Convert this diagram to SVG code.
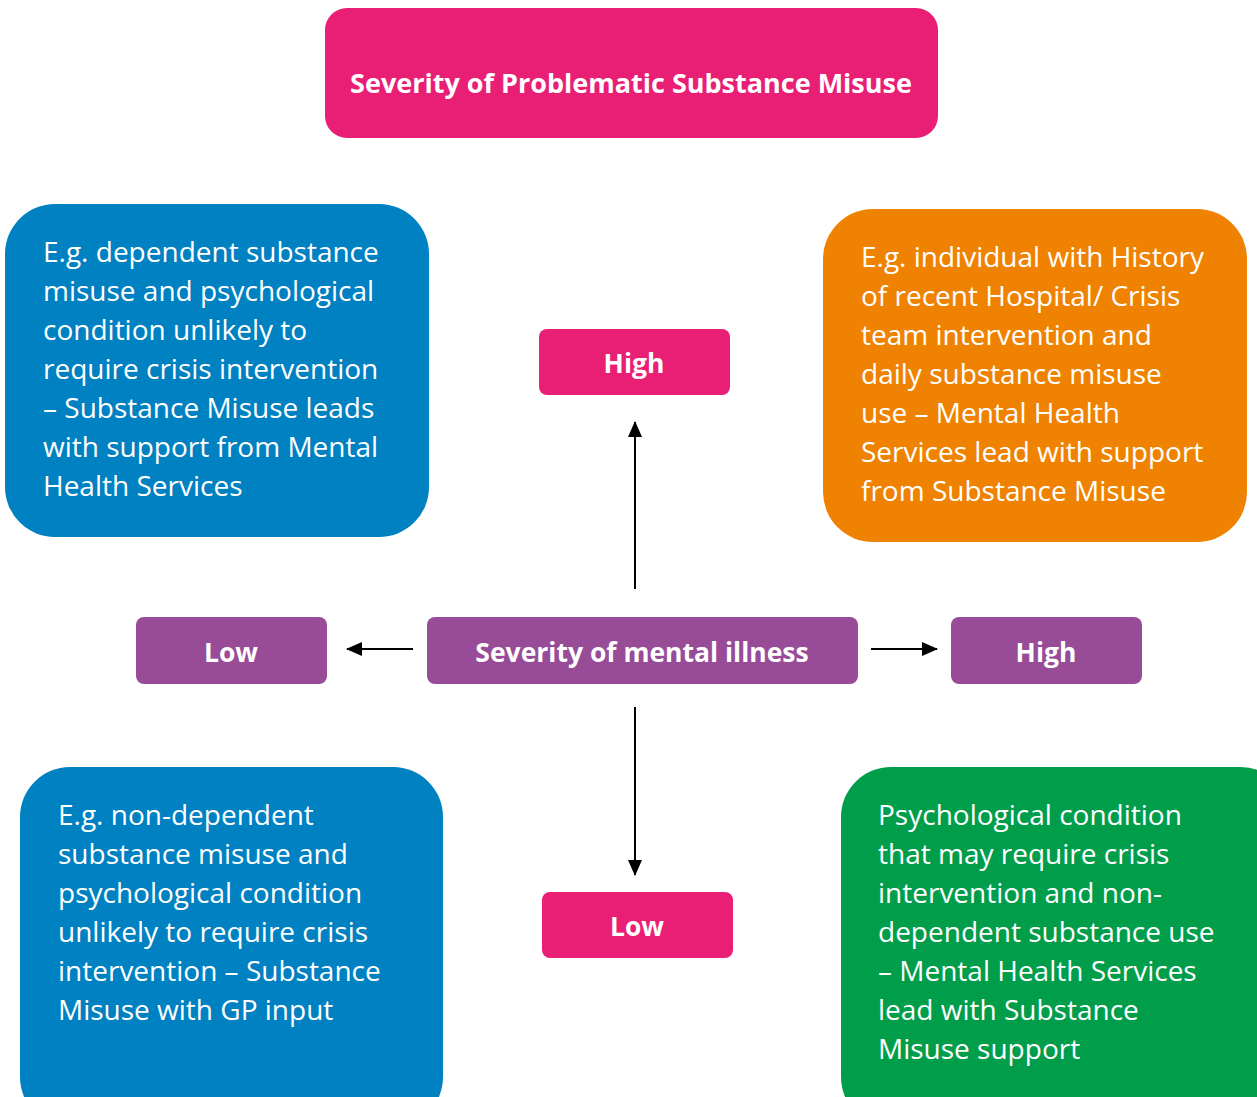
<svg xmlns="http://www.w3.org/2000/svg" width="1257" height="1097" viewBox="0 0 1257 1097">
<style>
.body{font-family:"Open Sans","Liberation Sans",sans-serif;font-size:28px;fill:#fff}
.lbl{font-family:"Open Sans","Liberation Sans",sans-serif;font-size:26.5px;font-weight:bold;fill:#fff;text-anchor:middle}
.pink{fill:#E91E75}
.purple{fill:#984C98}
.conn{stroke:#000;stroke-width:2;fill:none;marker-end:url(#ah)}
</style>
<defs>
<marker id="ah" markerWidth="16" markerHeight="14" refX="15" refY="7" orient="auto" markerUnits="userSpaceOnUse">
<path d="M0,0 L16,7 L0,14 Z" fill="#000"/>
</marker>
</defs>
<rect width="1257" height="1097" fill="#fff"/>
<g id="title">
<rect class="pink" x="325" y="8" width="613" height="130" rx="22"/>
<text class="lbl" x="631" y="93" style="font-size:27px">Severity of Problematic Substance Misuse</text>
</g>
<g id="top-left">
<rect x="5" y="204" width="424" height="333" rx="50" fill="#0081C2"/>
<text class="body" x="43" y="262">E.g. dependent substance</text>
<text class="body" x="43" y="301">misuse and psychological</text>
<text class="body" x="43" y="340">condition unlikely to</text>
<text class="body" x="43" y="379">require crisis intervention</text>
<text class="body" x="43" y="418">– Substance Misuse leads</text>
<text class="body" x="43" y="457">with support from Mental</text>
<text class="body" x="43" y="496">Health Services</text>
</g>
<g id="top-right">
<rect x="823" y="209" width="424" height="333" rx="50" fill="#EF8200"/>
<text class="body" x="861" y="267">E.g. individual with History</text>
<text class="body" x="861" y="306">of recent Hospital/ Crisis</text>
<text class="body" x="861" y="345">team intervention and</text>
<text class="body" x="861" y="384">daily substance misuse</text>
<text class="body" x="861" y="423">use – Mental Health</text>
<text class="body" x="861" y="462">Services lead with support</text>
<text class="body" x="861" y="501">from Substance Misuse</text>
</g>
<g id="high-top">
<rect class="pink" x="539" y="329" width="191" height="66" rx="8"/>
<text class="lbl" x="634" y="373">High</text>
</g>
<g id="low-left">
<rect class="purple" x="136" y="617" width="191" height="67" rx="8"/>
<text class="lbl" x="231" y="662">Low</text>
</g>
<g id="center">
<rect class="purple" x="427" y="617" width="431" height="67" rx="8"/>
<text class="lbl" x="642" y="662">Severity of mental illness</text>
</g>
<g id="high-right">
<rect class="purple" x="951" y="617" width="191" height="67" rx="8"/>
<text class="lbl" x="1046" y="662">High</text>
</g>
<g id="low-bottom">
<rect class="pink" x="542" y="892" width="191" height="66" rx="8"/>
<text class="lbl" x="637" y="936">Low</text>
</g>
<g id="bottom-left">
<rect x="20" y="767" width="423" height="360" rx="50" fill="#0081C2"/>
<text class="body" x="58" y="825">E.g. non-dependent</text>
<text class="body" x="58" y="864">substance misuse and</text>
<text class="body" x="58" y="903">psychological condition</text>
<text class="body" x="58" y="942">unlikely to require crisis</text>
<text class="body" x="58" y="981">intervention – Substance</text>
<text class="body" x="58" y="1020">Misuse with GP input</text>
</g>
<g id="bottom-right">
<rect x="841" y="767" width="450" height="360" rx="50" fill="#009E4B"/>
<text class="body" x="878" y="825">Psychological condition</text>
<text class="body" x="878" y="864">that may require crisis</text>
<text class="body" x="878" y="903">intervention and non-</text>
<text class="body" x="878" y="942">dependent substance use</text>
<text class="body" x="878" y="981">– Mental Health Services</text>
<text class="body" x="878" y="1020">lead with Substance</text>
<text class="body" x="878" y="1059">Misuse support</text>
</g>
<g id="connectors">
<line class="conn" x1="635" y1="589" x2="635" y2="422"/>
<line class="conn" x1="635" y1="707" x2="635" y2="875"/>
<line class="conn" x1="413" y1="649" x2="347" y2="649"/>
<line class="conn" x1="871" y1="649" x2="937" y2="649"/>
</g>
</svg>
